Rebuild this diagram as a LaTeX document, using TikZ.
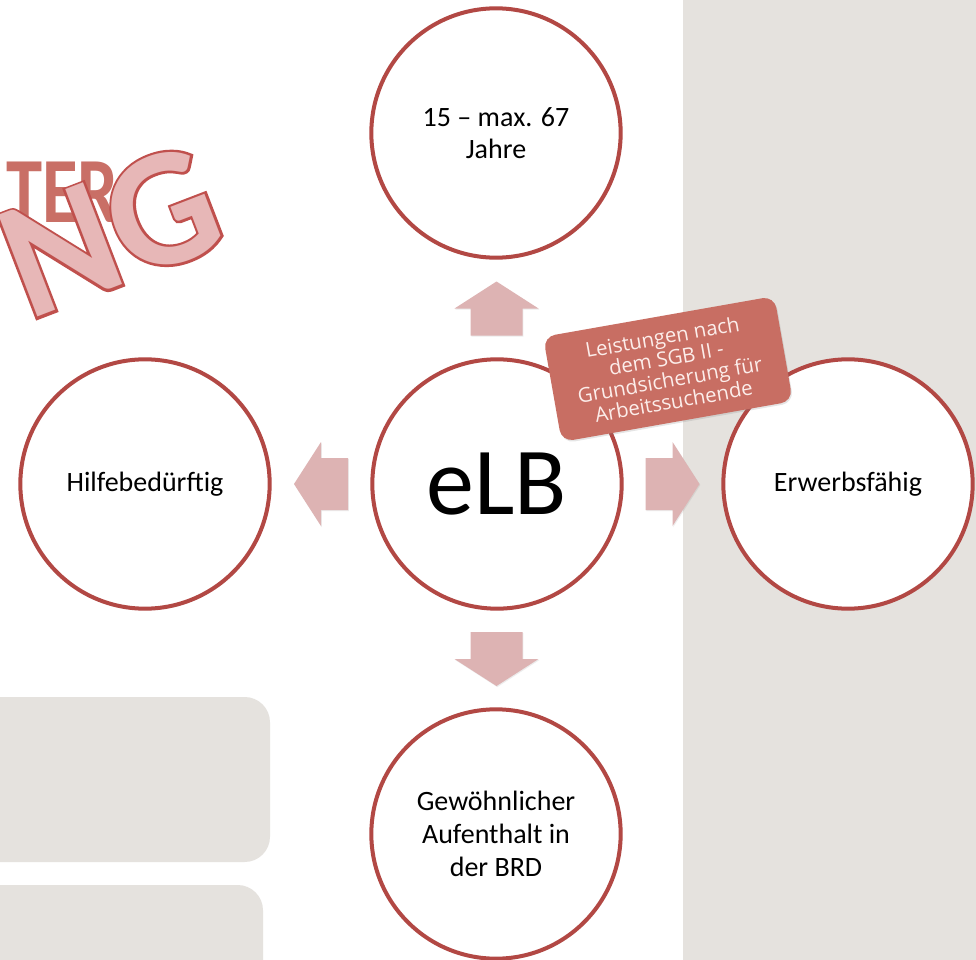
\documentclass[tikz,border=0pt]{standalone}
\usepackage{fontspec}
\setmainfont{Carlito}
\newfontfamily\lblfont{Open Sans}
\newfontfamily\waout[FakeBold=3]{Carlito Bold}
\newfontfamily\wabold{Carlito Bold}
\usetikzlibrary{shadows,calc}
\definecolor{panel}{HTML}{E5E2DE}
\definecolor{circline}{HTML}{B24844}
\definecolor{arrowpink}{HTML}{DDB3B3}
\definecolor{labelfill}{HTML}{C86E63}
\definecolor{labeltext}{HTML}{FCEDEA}
\definecolor{terg}{HTML}{C96F66}
\definecolor{ungfill}{HTML}{E7B7B7}
\definecolor{ungline}{HTML}{C0504D}
\begin{document}
\begin{tikzpicture}[x=0.75pt,y=-0.75pt,
  bub/.style={circle, draw=circline, line width=3pt, fill=white,
    minimum size=187pt, inner sep=0pt, align=center,
    font=\fontsize{21}{24.5}\selectfont,
    drop shadow={opacity=0.18, shadow xshift=0.6pt, shadow yshift=-1.2pt}},
  wafill/.style={anchor=base west, inner sep=0pt, rotate=21, text=ungfill,
    font=\wabold\fontsize{126}{126}\selectfont},
  waline/.style={anchor=base west, inner sep=0pt, rotate=21, text=ungline,
    font=\waout\fontsize{126}{126}\selectfont},
  barrow/.pic={\fill[arrowpink, drop shadow={opacity=0.15, shadow xshift=0.6pt, shadow yshift=-0.8pt}]
    (-27,-26) -- (0,-26) -- (0,-42) -- (27,0) -- (0,42) -- (0,26) -- (-27,26) -- cycle;}
]
\useasboundingbox (0,0) rectangle (976,960);
\clip (0,0) rectangle (976,960);
\fill[white] (0,0) rectangle (976,960);
\fill[panel] (683,0) rectangle (976,960);
\fill[panel, rounded corners=19pt] (-40,697) rectangle (270,862);
\fill[panel, rounded corners=19pt] (-40,885) rectangle (263,1010);

% word art
\begin{scope}
  \clip (0,140) rectangle (122,240);
  \node[anchor=base west, inner sep=0pt, text=terg, xscale=0.78,
    font=\wabold\fontsize{70}{70}\selectfont] (terg) at (6,222) {TERG};
\end{scope}
\coordinate (ungp) at (28,321);
\coordinate (ungu) at (9,328);
\node[waline] (ngo) at (ungp) {NG};
\node[waline, anchor=base east] (uo) at (ungu) {U};
\node[wafill] (ngf) at (ungp) {NG};
\node[wafill, anchor=base east] (uf) at (ungu) {U};

% circles
\node[bub] (c) at (497,484) {\fontsize{72}{72}\selectfont eLB};
\node[bub] (t) at (496,133) {15 – max. 67\\Jahre};
\node[bub] (l) at (145,484) {Hilfebedürftig};
\node[bub] (r) at (848,484) {Erwerbsfähig};
\node[bub] (b) at (496,834) {Gewöhnlicher\\Aufenthalt in\\der BRD};

% block arrows
\pic[rotate=90] at ($(c)!0.5!(t)$) {barrow};
\pic[rotate=180] at ($(c)!0.5!(l)$) {barrow};
\pic at ($(c)!0.5!(r)$) {barrow};
\pic[rotate=-90] at ($(c)!0.5!(b)$) {barrow};

% label
\node[rotate=10, fill=labelfill, rounded corners=9pt, minimum width=176pt,
  minimum height=80pt, align=center, text=labeltext, inner sep=2pt,
  font=\lblfont\fontsize{15.3}{16.3}\selectfont,
  drop shadow={opacity=0.2, shadow xshift=0.8pt, shadow yshift=-1.2pt}] (lbl)
  at (668,369) {Leistungen nach\\dem SGB II -\\Grundsicherung für\\Arbeitssuchende};
\end{tikzpicture}
\end{document}
